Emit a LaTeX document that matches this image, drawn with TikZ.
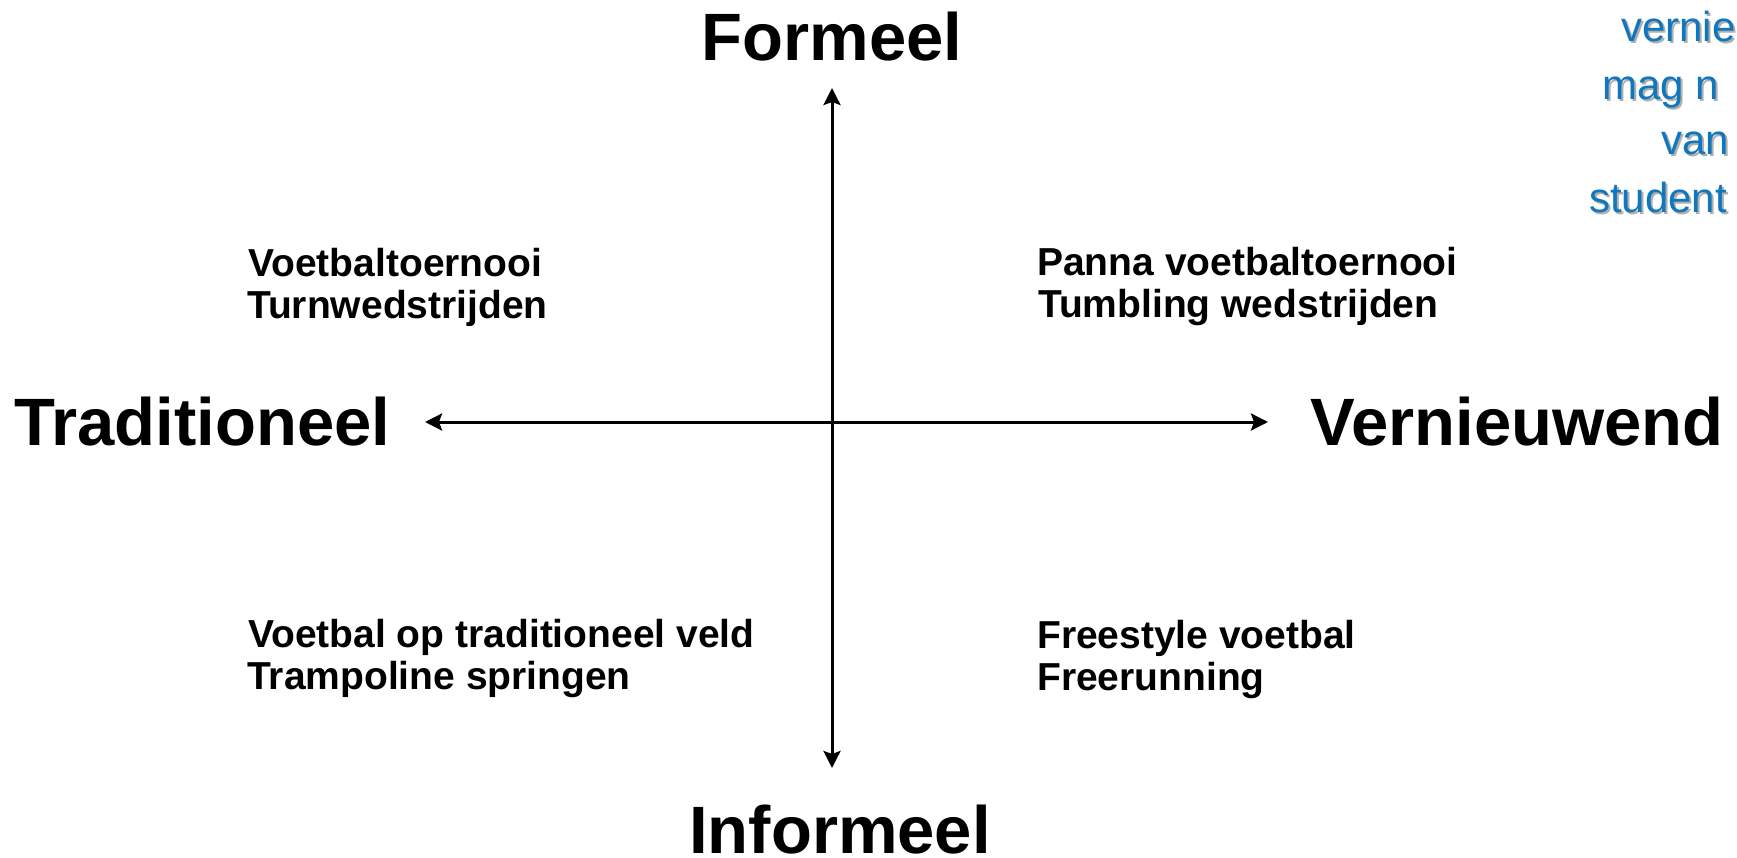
\documentclass[tikz,border=0pt]{standalone}
\usepackage{fontspec}
\setmainfont{Liberation Sans}
\usetikzlibrary{arrows.meta}
\definecolor{noteblue}{RGB}{16,118,190}
\definecolor{noteshadow}{RGB}{175,175,175}
\begin{document}
\begin{tikzpicture}[x=1pt,y=-1pt,
  axislabel/.style={inner sep=0pt,font=\fontsize{67}{80}\selectfont\bfseries},
  item/.style={inner sep=0pt,anchor=base west,font=\fontsize{39}{45}\selectfont\bfseries},
  note/.style={inner sep=0pt,anchor=base west,text=noteblue,font=\fontsize{42}{50}\selectfont},
  noteshade/.style={inner sep=0pt,anchor=base west,text=noteshadow,font=\fontsize{42}{50}\selectfont},
  axis/.style={line width=3pt,{Stealth[length=17pt,width=17pt,inset=3pt]}-{Stealth[length=17pt,width=17pt,inset=3pt]}}]
\useasboundingbox (0,0) rectangle (1737,858);
\clip (0,0) rectangle (1737,858);
\fill[white] (0,0) rectangle (1737,858);

% axes
\coordinate (top) at (832,88);
\coordinate (bot) at (832,768);
\coordinate (lft) at (425,422);
\coordinate (rgt) at (1268,422);
\draw[axis] (bot) -- (top);
\draw[axis] (lft) -- (rgt);

% axis labels
\node[axislabel,anchor=base] (formeel) at (832,61) {Formeel};
\node[axislabel,anchor=base west] (informeel) at (689,853) {Informeel};
\node[axislabel,anchor=base west] (trad) at (14,445) {Traditioneel};
\node[axislabel,anchor=base west] (vern) at (1310,445) {Vernieuwend};

% quadrant items
\node[item] (tl1) at (248,277) {Voetbaltoernooi};
\node[item] (tl2) at (247,319) {Turnwedstrijden};
\node[item] (tr1) at (1037,276) {Panna voetbaltoernooi};
\node[item] (tr2) at (1038,318) {Tumbling wedstrijden};
\node[item] (bl1) at (248,647) {Voetbal op traditioneel veld};
\node[item] (bl2) at (247,689) {Trampoline springen};
\node[item] (br1) at (1037,648) {Freestyle voetbal};
\node[item] (br2) at (1037,690) {Freerunning};

% clipped blue note (shadow first)
\node[noteshade] (n1s) at (1623,44) {vernie};
\node[noteshade] (n2s) at (1604,102) {mag n};
\node[noteshade] (n3s) at (1663,157) {van};
\node[noteshade] (n4s) at (1591,215) {student};
\node[note] (n1) at (1621,42) {vernie};
\node[note] (n2) at (1602,100) {mag n};
\node[note] (n3) at (1661,155) {van};
\node[note] (n4) at (1589,213) {student};
\end{tikzpicture}
\end{document}
